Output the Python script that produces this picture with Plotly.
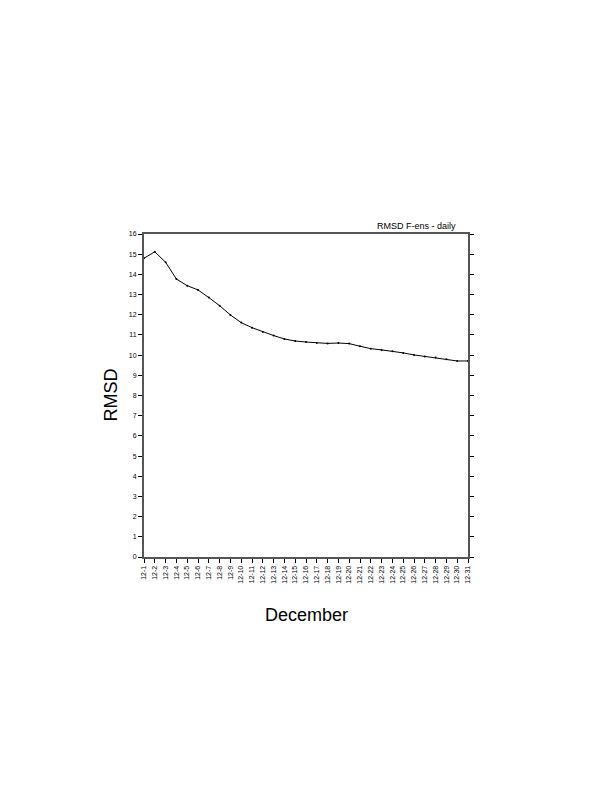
import plotly.graph_objects as go

days = [f"12-{d}" for d in range(1, 32)]
rmsd = [14.80, 15.12, 14.60, 13.77, 13.44, 13.23, 12.85, 12.45, 11.99, 11.61,
        11.36, 11.15, 10.97, 10.80, 10.70, 10.65, 10.60, 10.58, 10.60, 10.57,
        10.44, 10.32, 10.26, 10.19, 10.11, 10.01, 9.93, 9.88, 9.80, 9.71, 9.71]
y_ticks = list(range(0, 17))

FONT = "Liberation Sans, Arial, Helvetica, sans-serif"

fig = go.Figure()
fig.add_trace(go.Scatter(
    x=days, y=rmsd, mode="lines+markers",
    line=dict(color="black", width=1),
    marker=dict(color="black", size=2),
    showlegend=False, hoverinfo="skip",
))

fig.update_layout(
    width=604, height=784,
    margin=dict(l=136, r=144, t=226, b=235),
    paper_bgcolor="white", plot_bgcolor="white",
    font=dict(family=FONT, color="black"),
    xaxis=dict(
        type="category", range=[0, 30], tickmode="array", tickvals=days, ticktext=days,
        tickangle=-90, tickfont=dict(size=7), ticks="outside", ticklen=4, tickwidth=1,
        tickcolor="black", showline=True, linecolor="#555555", linewidth=2,
        mirror=True, showgrid=False, zeroline=False,
    ),
    yaxis=dict(
        range=[0, 16], tickmode="array", tickvals=y_ticks,
        tickfont=dict(size=7), ticks="outside", ticklen=4, tickwidth=1,
        tickcolor="black", showline=True, linecolor="#555555", linewidth=2,
        mirror="ticks", showgrid=False, zeroline=False,
    ),
    annotations=[
        dict(text="RMSD F-ens - daily", xref="paper", yref="paper", x=0.97, y=1.0,
             xanchor="right", yanchor="bottom", yshift=1, showarrow=False,
             font=dict(size=9, family=FONT)),
        dict(text="RMSD", xref="paper", yref="paper", x=0, y=0.5, xshift=-34,
             xanchor="center", yanchor="middle", textangle=-90, showarrow=False,
             font=dict(size=18, family=FONT)),
        dict(text="December", xref="paper", yref="paper", x=0.5, y=0, yshift=-58,
             xanchor="center", yanchor="middle", showarrow=False,
             font=dict(size=18, family=FONT)),
    ],
)

fig.write_html("out.html")
